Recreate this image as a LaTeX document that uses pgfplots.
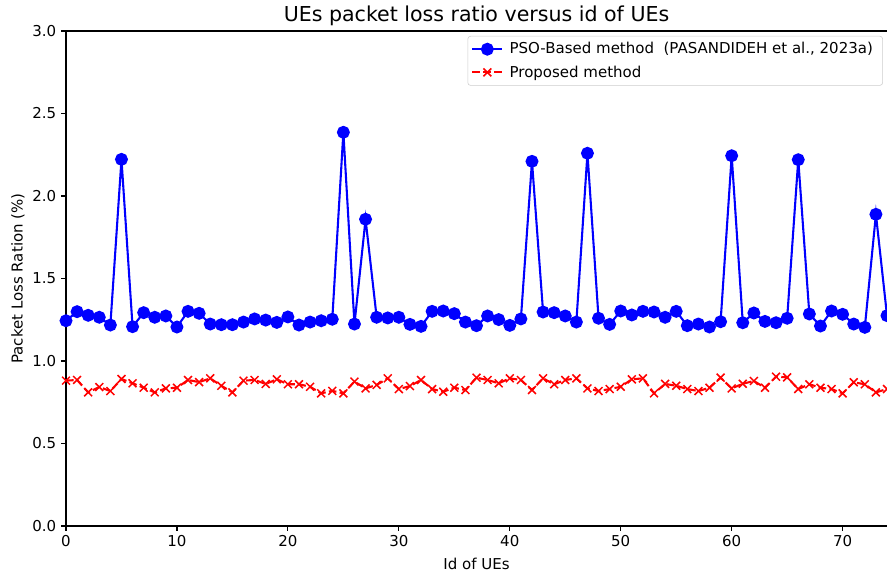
\documentclass[border=0pt]{standalone}
\usepackage{fontspec}
\setmainfont{DejaVu Sans}
\usepackage{pgfplots}
\pgfplotsset{compat=1.18}

\pgfplotstableread{
x y
0 1.244
1 1.299
2 1.277
3 1.265
4 1.218
5 2.222
6 1.208
7 1.293
8 1.265
9 1.273
10 1.206
11 1.301
12 1.289
13 1.224
14 1.220
15 1.220
16 1.236
17 1.255
18 1.248
19 1.234
20 1.267
21 1.218
22 1.236
23 1.244
24 1.253
25 2.386
26 1.224
27 1.859
28 1.265
29 1.261
30 1.265
31 1.222
32 1.210
33 1.301
34 1.303
35 1.287
36 1.236
37 1.214
38 1.273
39 1.251
40 1.216
41 1.255
42 2.210
43 1.297
44 1.293
45 1.273
46 1.236
47 2.259
48 1.259
49 1.222
50 1.303
51 1.279
52 1.301
53 1.297
54 1.265
55 1.301
56 1.214
57 1.224
58 1.206
59 1.238
60 2.244
61 1.232
62 1.291
63 1.240
64 1.232
65 1.259
66 2.220
67 1.285
68 1.212
69 1.303
70 1.283
71 1.224
72 1.204
73 1.889
74 1.275
}\psodata

\pgfplotstableread{
x y
0 0.881
1 0.885
2 0.810
3 0.842
4 0.818
5 0.891
6 0.865
7 0.838
8 0.810
9 0.834
10 0.838
11 0.885
12 0.872
13 0.895
14 0.850
15 0.810
16 0.881
17 0.885
18 0.861
19 0.889
20 0.859
21 0.859
22 0.844
23 0.804
24 0.819
25 0.804
26 0.875
27 0.834
28 0.855
29 0.895
30 0.830
31 0.848
32 0.885
33 0.830
34 0.814
35 0.838
36 0.824
37 0.899
38 0.885
39 0.865
40 0.895
41 0.885
42 0.824
43 0.895
44 0.859
45 0.885
46 0.895
47 0.834
48 0.818
49 0.830
50 0.844
51 0.889
52 0.895
53 0.804
54 0.861
55 0.850
56 0.830
57 0.818
58 0.838
59 0.899
60 0.834
61 0.862
62 0.879
63 0.838
64 0.905
65 0.901
66 0.830
67 0.859
68 0.838
69 0.830
70 0.804
71 0.871
72 0.859
73 0.810
74 0.830
}\propdata

\begin{document}
\begin{tikzpicture}
\begin{axis}[
    scale only axis,
    width=591.1pt, height=356.4pt,
    xmin=0, xmax=74, ymin=0, ymax=3,
    axis x line*=box, axis y line*=left,
    axis line style={line width=0.8pt},
    xtick={0,10,...,70},
    ytick={0,0.5,...,3},
    xtick pos=bottom, ytick pos=left,
    tick align=outside,
    major tick length=3.5pt,
    every tick/.style={black, line width=0.8pt},
    /pgf/number format/assume math mode=true,
    yticklabel style={/pgf/number format/fixed, /pgf/number format/fixed zerofill, /pgf/number format/precision=1},
    ticklabel style={font=\fontsize{10.8}{13}\selectfont},
    title={UEs packet loss ratio versus id of UEs},
    title style={at={(axis description cs:0.5,1)}, anchor=base, yshift=1pt, font=\fontsize{14.8}{18}\selectfont},
    xlabel={Id of UEs},
    xlabel style={at={(axis description cs:0.5,0)}, anchor=base, yshift=-31pt, font=\fontsize{10.8}{13}\selectfont},
    ylabel={Packet Loss Ration (\%)},
    ylabel style={at={(axis description cs:-0.0585,0.5)}, anchor=center, font=\fontsize{10.8}{13}\selectfont},
    clip mode=individual,
    legend cell align=left,
    legend style={at={(axis description cs:0.995,0.99)}, anchor=north east,
        draw=black!20, rounded corners=2pt, fill=white,
        font=\fontsize{10.8}{13}\selectfont,
        inner sep=2.5pt, row sep=3pt,
        nodes={inner xsep=4.5pt}},
    legend image code/.code={
        \draw[mark repeat=2,mark phase=2] plot coordinates {(0cm,0cm) (0.38cm,0cm) (0.76cm,0cm)};
    },
]
\addplot[color=blue, line width=1.5pt, mark=*, mark size=3.9pt, mark options={solid}] table {\psodata};
\addlegendentry{PSO-Based method~ (PASANDIDEH et al., 2023a)}
\addplot[color=red, line width=1.5pt, dash pattern=on 5.5pt off 2.4pt, mark=x, mark size=4pt, mark options={solid, line width=1.1pt}] table {\propdata};
\addlegendentry{Proposed method}
\coordinate (sw) at (rel axis cs:0,0);
\coordinate (ne) at (rel axis cs:1,1);
\end{axis}
\pgfresetboundingbox
\path[use as bounding box] ([shift={(-47.52pt,-34.56pt)}]sw) rectangle ([shift={(0pt,22.32pt)}]ne);
\end{tikzpicture}
\end{document}
